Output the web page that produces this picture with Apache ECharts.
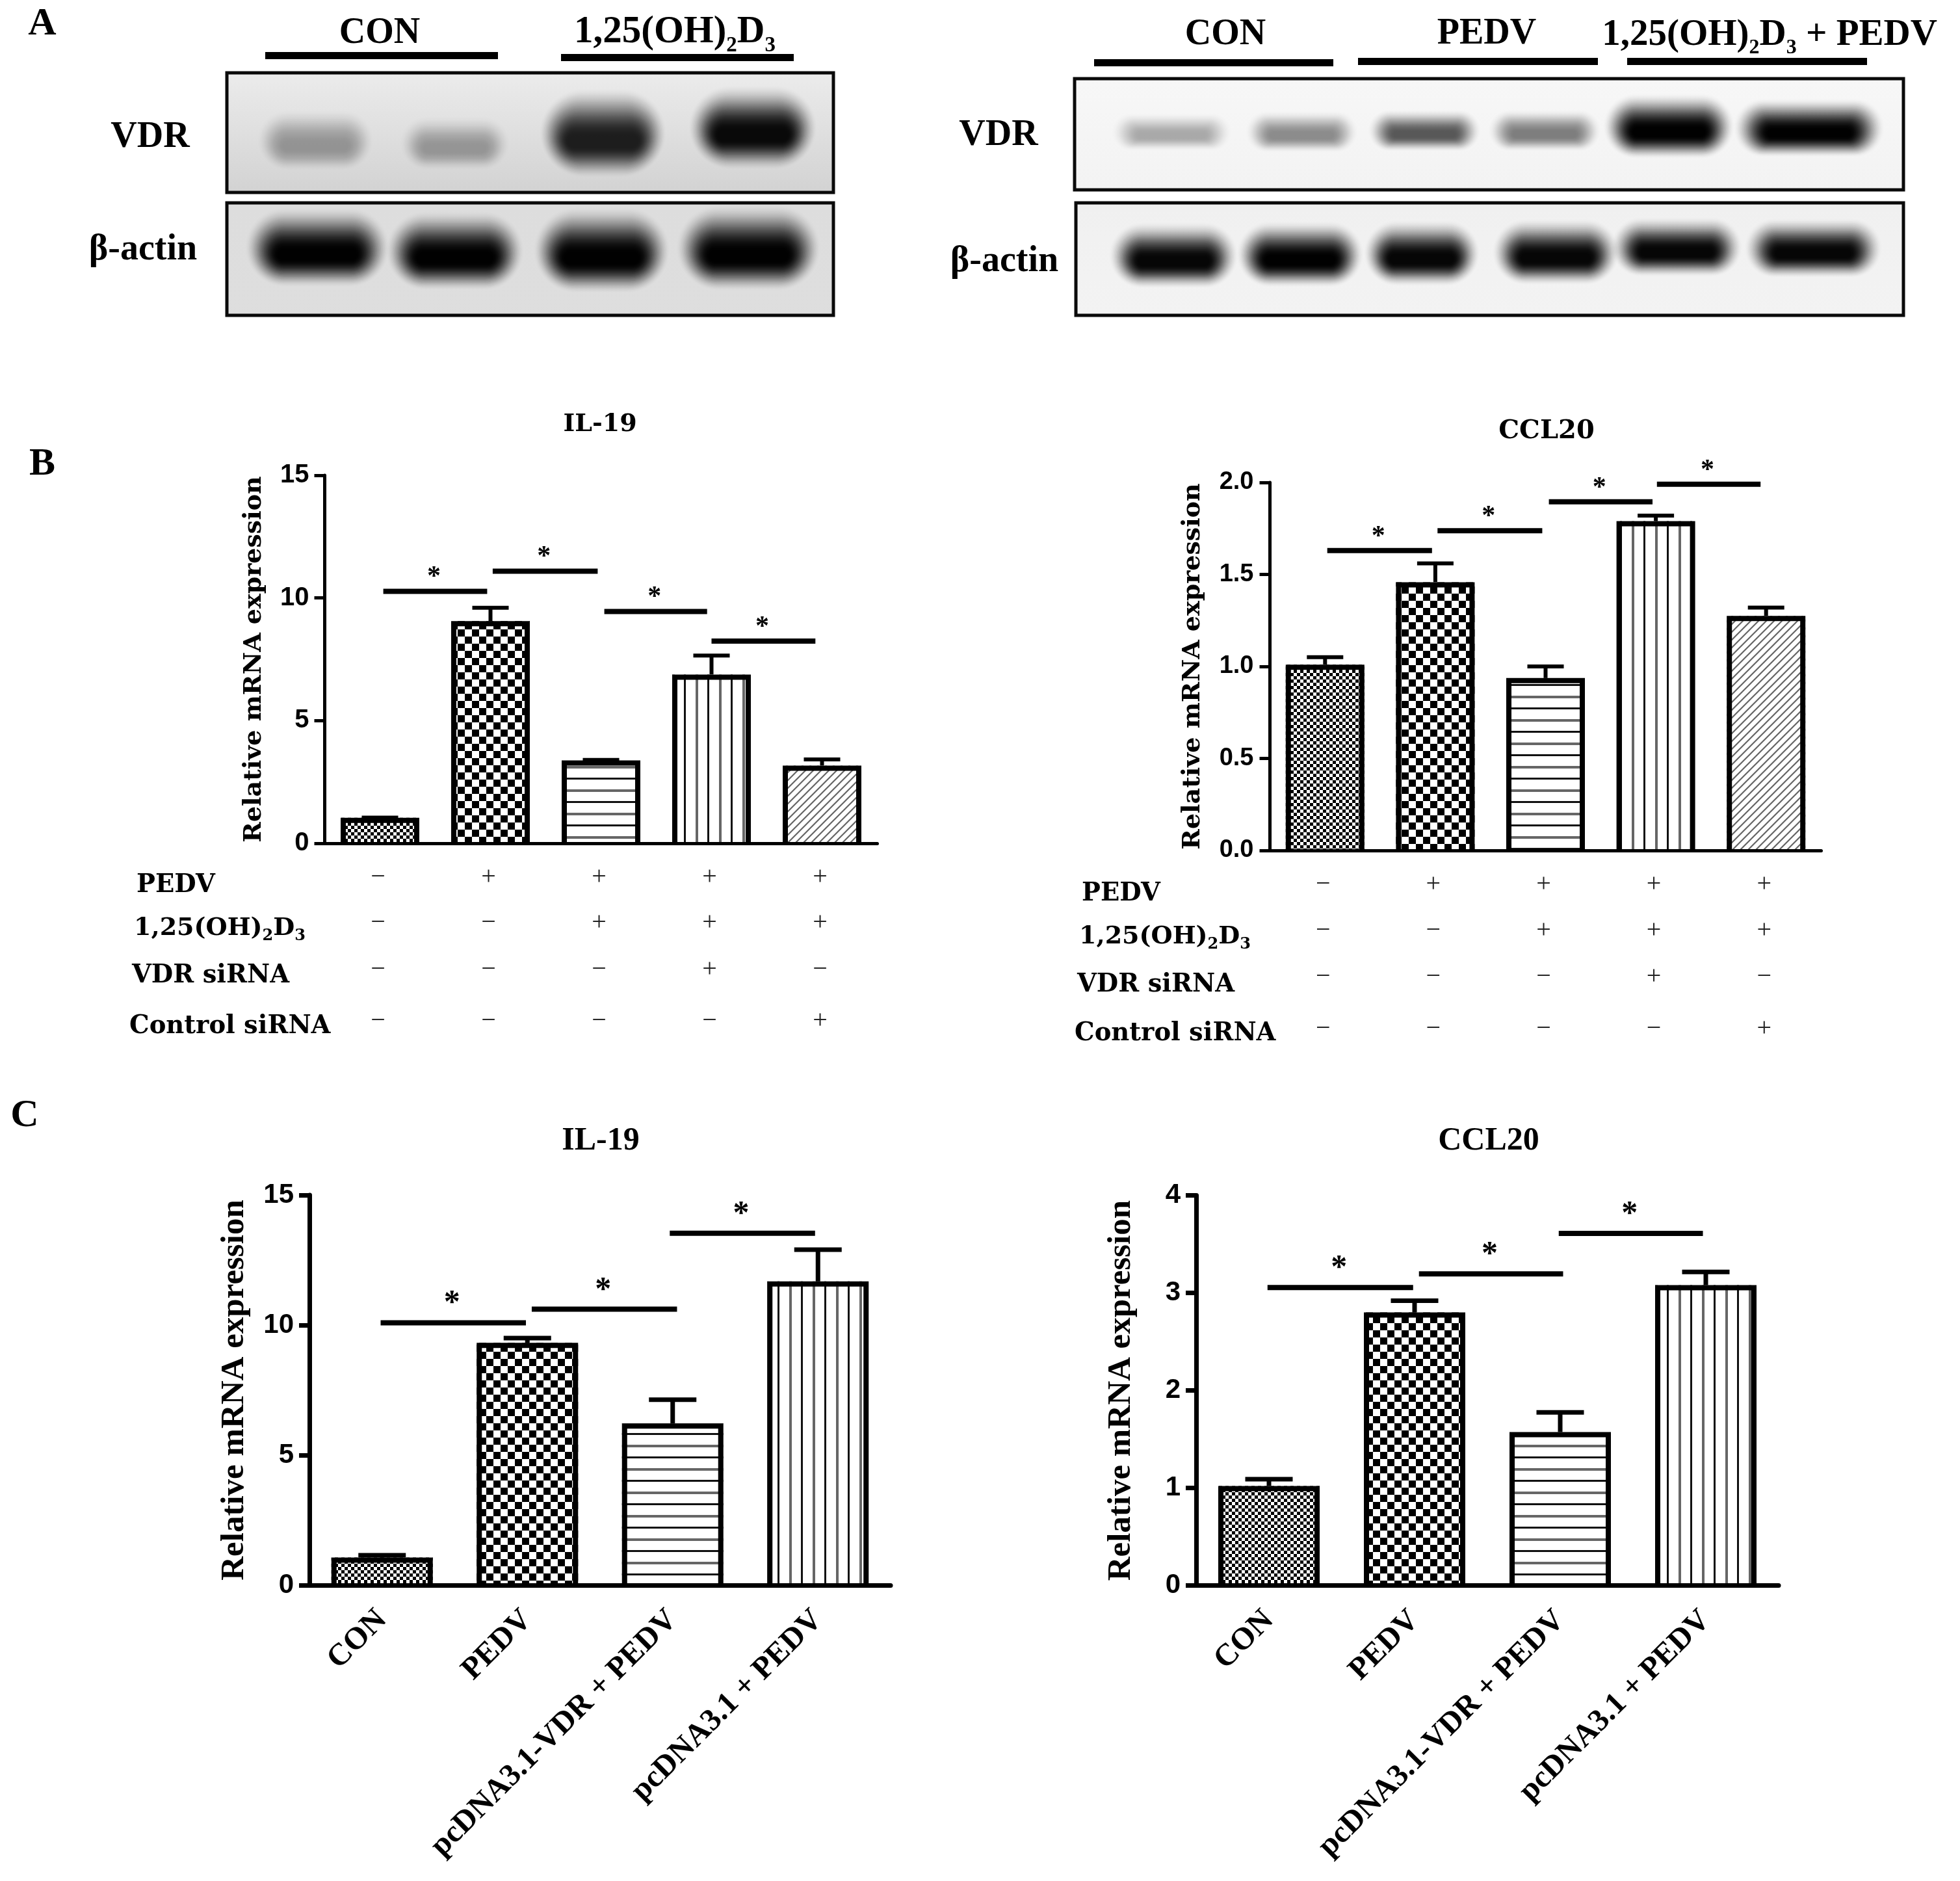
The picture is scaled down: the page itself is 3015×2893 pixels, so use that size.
<!DOCTYPE html>
<html><head><meta charset="utf-8">
<style>html,body{margin:0;padding:0;background:#fff}#c{width:3015px;height:2893px}</style>
<script src="https://cdn.jsdelivr.net/npm/echarts@6/dist/echarts.min.js"></script>
</head><body><div id="c"></div>
<script>
// ---------- data ----------
const bConditions = ['CON','PEDV','PEDV+D3','PEDV+D3+VDR siRNA','PEDV+D3+Control siRNA'];
const il19BValues = [1.04, 9.06, 3.38, 6.88, 3.17];
const il19BErrTop = [1.05, 9.6, 3.4, 7.65, 3.42];
const il19BSig = [[0.03,0.97,10.27],[1.02,1.97,11.09],[2.03,2.96,9.45],[3.0,3.94,8.24]];
const ccl20BValues = [1.01, 1.458, 0.937, 1.79, 1.275];
const ccl20BErrTop = [1.05, 1.56, 1.0, 1.82, 1.32];
const ccl20BSig = [[0.02,0.97,1.63],[1.02,1.97,1.738],[2.03,2.97,1.895],[3.01,3.95,1.99]];
const pedvRow    = ['−','+','+','+','+'];
const vitD3Row   = ['−','−','+','+','+'];
const vdrSiRow   = ['−','−','−','+','−'];
const ctrlSiRow  = ['−','−','−','−','+'];
const cCategories = ['CON','PEDV','pcDNA3.1-VDR + PEDV','pcDNA3.1 + PEDV'];
const il19CValues = [1.06, 9.32, 6.22, 11.68];
const il19CErrTop = [1.15, 9.5, 7.13, 12.9];
const il19CSig = [[-0.01,0.99,10.09],[1.03,2.03,10.61],[1.98,2.98,13.53]];
const ccl20CValues = [1.02, 2.8, 1.574, 3.08];
const ccl20CErrTop = [1.09, 2.92, 1.775, 3.215];
const ccl20CSig = [[-0.01,0.99,3.055],[1.03,2.02,3.195],[1.99,2.98,3.61]];
// western-blot bands: [x%, y%, half width %, half height %, darkness]
const blotLeftVdr = [[14.6,61,7.4,9,.28],[37.6,63,7,8,.25],[62,57,8,13,.84],[86.7,52,8,12,.94]];
const blotLeftActin = [[14.9,46,9,12,1],[37.6,49,8.6,12,1],[61.8,49,8.5,13,1],[86,47,9,13,1]];
const blotRightVdr = [[11.7,51,5.6,6,.26],[27.4,51,5.2,6.5,.38],[42.2,50,5.2,6.5,.6],[56.7,50,5.2,6.5,.44],[71.7,48,6,10,1],[88.6,49,6.9,9,1]];
const blotRightActin = [[11.8,52,5.9,10,.96],[27.1,51,5.8,10,1],[41.8,50,5.3,10,.96],[58,49,5.8,10,.96],[72.6,44,6,9,.96],[89.1,45,6.3,9,.96]];

// ---------- styling helpers ----------
const SERIF='"Liberation Serif"', DJ='"DejaVu Serif"', SANS='"Liberation Sans"';
function tile(w,h,draw){const c=document.createElement('canvas');c.width=w;c.height=h;const x=c.getContext('2d');x.fillStyle='#fff';x.fillRect(0,0,w,h);draw(x);return {image:c,repeat:'repeat'};}
function checker(s){return tile(2*s,2*s,x=>{x.fillStyle='#000';x.fillRect(0,0,s,s);x.fillRect(s,s,s,s);});}
const patDense=checker(5), patCheck=checker(11);
const patH=tile(8,36,x=>{x.fillStyle='#111';x.fillRect(0,8,8,3);x.fillStyle='#666';x.fillRect(0,26,8,4);});
const patV=tile(36,8,x=>{x.fillStyle='#111';x.fillRect(8,0,3,8);x.fillStyle='#666';x.fillRect(26,0,4,8);});
const patD=tile(12,12,x=>{x.strokeStyle='#666';x.lineWidth=2.2;x.beginPath();x.moveTo(-3,15);x.lineTo(15,-3);x.moveTo(-3,3);x.lineTo(3,-3);x.moveTo(9,15);x.lineTo(15,9);x.stroke();});
const barPatterns=[patDense,patCheck,patH,patV,patD];

const grid=[],xAxis=[],yAxis=[],series=[],graphic=[];
function text(x,y,t,font,opt){graphic.push({type:'text',x,y:y+4,silent:true,style:Object.assign({text:t,font,fill:'#000',align:'center',verticalAlign:'middle'},opt&&opt.style)});}
function d3Text(x,y,t,size,family,align,sub){
  const s=sub||Math.round(size*.62);
  graphic.push({type:'text',x,y,silent:true,style:{text:t,align:align,verticalAlign:'middle',fill:'#000',
    rich:{a:{fontFamily:family,fontWeight:'bold',fontSize:size,lineHeight:size*1.25,fill:'#000'},
          s:{fontFamily:family,fontWeight:'bold',fontSize:s,lineHeight:s,verticalAlign:'bottom',fill:'#000'}}}});
}
const D3='{a|1,25(OH)}{s|2}{a|D}{s|3}';

function barPanel(p){
  const g=grid.length;
  grid.push({left:p.left,top:p.top,width:p.width,height:p.height});
  const n=p.values.length;
  const cat=xAxis.length;
  xAxis.push({type:'category',gridIndex:g,data:p.categories,position:'bottom',z:8,
    axisLine:{lineStyle:{color:'#000',width:p.axisW}},
    axisTick:{alignWithLabel:true,length:17,lineStyle:{color:'#000',width:p.axisW}},
    axisLabel:p.rotate?{show:true,rotate:45,interval:0,margin:p.labelMargin,color:'#000',fontFamily:SERIF,fontWeight:'bold',fontSize:p.catSize}:{show:false}});
  const hid=xAxis.length;
  xAxis.push({type:'value',gridIndex:g,show:false,min:-.5,max:n-.5,splitLine:{show:false}});
  const y=yAxis.length;
  yAxis.push({type:'value',gridIndex:g,min:0,max:p.max,interval:p.interval,
    name:'Relative mRNA expression',nameLocation:'middle',nameGap:p.nameGap,nameRotate:90,
    nameTextStyle:{color:'#000',fontFamily:p.nameFont,fontWeight:'bold',fontSize:p.nameSize},
    axisLine:{show:true,onZero:false,lineStyle:{color:'#000',width:p.axisW}},
    axisTick:{show:true,length:16,lineStyle:{color:'#000',width:p.axisW}},
    splitLine:{show:false},
    axisLabel:{margin:p.tickMargin,color:'#000',fontFamily:SANS,fontWeight:'bold',fontSize:p.tickSize,
      formatter:v=>v.toFixed(p.decimals)}});
  series.push({type:'bar',xAxisIndex:cat,yAxisIndex:y,barWidth:p.barW,silent:true,
    data:p.values.map((v,i)=>({value:v,itemStyle:{color:(p.patterns||barPatterns)[i]}}))});
  // bar outline (open at the base, as in the figure), error stem and cap
  series.push({type:'custom',xAxisIndex:hid,yAxisIndex:y,silent:true,z:5,clip:false,
    data:p.values.map((v,i)=>[i,v,p.errTop[i]]),
    renderItem:(ctx,api)=>{
      const a=api.coord([api.value(0),api.value(1)]),b=api.coord([api.value(0),api.value(2)]),o=api.coord([api.value(0),0]);
      const st={stroke:'#000',lineWidth:p.errW,fill:null};
      const hs=p.barStroke/2,l=a[0]-p.barW/2+hs,r=a[0]+p.barW/2-hs,t=a[1]+hs;
      return {type:'group',children:[
        {type:'polyline',shape:{points:[[l,o[1]],[l,t],[r,t],[r,o[1]]]},style:{stroke:'#000',lineWidth:p.barStroke,fill:null,lineJoin:'miter'}},
        {type:'line',shape:{x1:a[0],y1:a[1],x2:b[0],y2:b[1]},style:st},
        {type:'line',shape:{x1:b[0]-p.capW/2,y1:b[1],x2:b[0]+p.capW/2,y2:b[1]},style:st}]};
    }});
  series.push({type:'custom',xAxisIndex:hid,yAxisIndex:y,silent:true,z:6,clip:false,
    data:p.sig,
    renderItem:(ctx,api)=>{
      const a=api.coord([api.value(0),api.value(2)]),b=api.coord([api.value(1),api.value(2)]);
      return {type:'group',children:[
        {type:'line',shape:{x1:a[0],y1:a[1],x2:b[0],y2:b[1]},style:{stroke:'#000',lineWidth:p.sigW}},
        {type:'text',x:(a[0]+b[0])/2-2,y:a[1]-p.starGap,style:{text:'*',font:'bold '+p.starSize+'px '+SERIF,fill:'#000',align:'center',verticalAlign:'middle'}}]};
    }});
}
function signGrid(left,width,top,height,rows){
  const g=grid.length;
  grid.push({left,top,width,height});
  const xi=xAxis.length,yi=yAxis.length;
  xAxis.push({type:'value',gridIndex:g,show:false,min:-.5,max:4.5,splitLine:{show:false}});
  yAxis.push({type:'value',gridIndex:g,show:false,min:0,max:3,inverse:true,splitLine:{show:false}});
  const rowPos=[0,.96,1.93,3],data=[];
  rows.forEach((r,j)=>r.forEach((s,i)=>data.push([i,rowPos[j],s])));
  series.push({type:'custom',xAxisIndex:xi,yAxisIndex:yi,silent:true,clip:false,data,
    encode:{x:0,y:1},dimensions:['c','r',{name:'s',type:'ordinal'}],
    renderItem:(ctx,api)=>{
      const c=api.coord([api.value(0),api.value(1)]);
      return {type:'text',x:c[0]-3,y:c[1]+3,style:{text:data[ctx.dataIndex][2],font:'40px '+SERIF,fill:'#222',align:'center',verticalAlign:'middle'}};
    }});
}
function blot(left,top,width,height,bands,c0,c1){
  const g=grid.length;
  grid.push({show:true,left,top,width,height,borderColor:'#0a0a0a',borderWidth:5,
    backgroundColor:{type:'linear',x:0,y:0,x2:0,y2:1,colorStops:[{offset:0,color:c0},{offset:1,color:c1}]}});
  const xi=xAxis.length,yi=yAxis.length;
  xAxis.push({type:'value',gridIndex:g,show:false,min:0,max:100,splitLine:{show:false}});
  yAxis.push({type:'value',gridIndex:g,show:false,min:0,max:100,inverse:true,splitLine:{show:false}});
  series.push({type:'custom',xAxisIndex:xi,yAxisIndex:yi,silent:true,clip:true,data:bands,
    encode:{x:0,y:1},
    renderItem:(ctx,api)=>{
      const c=api.coord([api.value(0),api.value(1)]),sz=api.size([api.value(2),api.value(3)]);
      const N=36,dark=Math.min(api.value(4),.985),kids=[];
      let prev=0;
      for(let k=1;k<=N;k++){
        const u=k/N,t=1-u;
        const D=dark*u*u*(3-2*u);
        const al=1-(1-D)/(1-prev);prev=D;
        const w=sz[0]*(.72+.62*t),h=sz[1]*(.4+2.6*t),cy=c[1]-sz[1]*.55*t;
        kids.push({type:'rect',shape:{x:c[0]-w,y:cy-h,width:2*w,height:2*h,r:Math.min(w,h)},style:{fill:'#000',opacity:al}});
      }
      return {type:'group',children:kids};
    }});
}

// ---------- panel A ----------
blot(349,112,933,184,blotLeftVdr,'#ececec','#d2d2d2');
blot(349,312,933,173,blotLeftActin,'#dddddd','#dedede');
blot(1653,121,1275,171,blotRightVdr,'#f7f7f7','#f3f3f3');
blot(1655,312,1273,173,blotRightActin,'#f0f0f0','#f3f3f3');
[[408,80,358,11],[863,83,358,11],[1683,91,368,11],[2089,89,369,11],[2503,89,369,11]].forEach(r=>
  graphic.push({type:'rect',silent:true,shape:{x:r[0],y:r[1],width:r[2],height:r[3]},style:{fill:'#000'}}));
const fA='bold 56px '+SERIF;
text(65,33,'A','bold 60px '+SERIF);
text(65,710,'B','bold 60px '+SERIF);
text(38,1712,'C','bold 60px '+SERIF);
text(584,48,'CON',fA);
d3Text(1038,50,D3,59,SERIF,'center',33);
text(1885,50,'CON',fA);
text(2287,49,'PEDV',fA);
d3Text(2722,54,D3+'{a| + PEDV}',57,SERIF,'center',32);
text(231,208,'VDR',fA);
text(220,381,'β-actin',fA);
text(1536,205,'VDR',fA);
text(1545,399,'β-actin',fA);

// ---------- panel B ----------
barPanel({left:499.5,top:731,width:850,height:566,values:il19BValues,errTop:il19BErrTop,sig:il19BSig,categories:bConditions,
  max:15,interval:5,decimals:0,axisW:5,barW:121,barStroke:8,errW:6,capW:56,sigW:8,starGap:21,starSize:42,
  nameFont:DJ,nameSize:38,nameGap:89,tickSize:40,tickMargin:24});
barPanel({left:1953.5,top:742,width:848,height:566,values:ccl20BValues,errTop:ccl20BErrTop,sig:ccl20BSig,categories:bConditions,
  max:2,interval:.5,decimals:1,axisW:5,barW:121,barStroke:8,errW:6,capW:56,sigW:8,starGap:21,starSize:42,
  nameFont:DJ,nameSize:38,nameGap:99,tickSize:38,tickMargin:25});
signGrid(499.5,850,1346,221,[pedvRow,vitD3Row,vdrSiRow,ctrlSiRow]);
signGrid(1953.5,848,1357,222,[pedvRow,vitD3Row,vdrSiRow,ctrlSiRow]);
const fB='bold 38.5px '+DJ;
function rowLabels(xs,ys){
  const o={align:'left'};
  text(xs[0],ys[0],'PEDV',fB,{style:o});
  d3Text(xs[1],ys[1],D3,38,DJ,'left',24);
  text(xs[2],ys[2],'VDR siRNA',fB,{style:o});
  text(xs[3],ys[3],'Control siRNA',fB,{style:o});
}
rowLabels([210,206,203,199],[1358,1428,1497,1575]);
rowLabels([1664,1660,1657,1653],[1371,1441,1511,1586]);
text(923,649,'IL-19','bold 38px '+DJ);
text(2379,660,'CCL20','bold 40px '+DJ);

// ---------- panel C ----------
const pC=[patDense,patCheck,patH,patV];
barPanel({left:476,top:1838,width:894,height:600,values:il19CValues,errTop:il19CErrTop,sig:il19CSig,categories:cCategories,rotate:true,
  max:15,interval:5,decimals:0,axisW:7,barW:156,barStroke:8,errW:7,capW:73,sigW:8,starGap:29,starSize:50,patterns:pC,
  nameFont:SERIF,nameSize:51,nameGap:90,tickSize:42,tickMargin:24,catSize:48,labelMargin:46});
barPanel({left:1840,top:1838.6,width:896,height:600,values:ccl20CValues,errTop:ccl20CErrTop,sig:ccl20CSig,categories:cCategories,rotate:true,
  max:4,interval:1,decimals:0,axisW:7,barW:156,barStroke:8,errW:7,capW:73,sigW:8,starGap:29,starSize:50,patterns:pC,
  nameFont:SERIF,nameSize:51,nameGap:90,tickSize:42,tickMargin:24,catSize:48,labelMargin:46});
text(924,1751,'IL-19','bold 50px '+SERIF);
text(2290,1751,'CCL20','bold 50px '+SERIF);

const chart=echarts.init(document.getElementById('c'),null,{renderer:'canvas'});
chart.setOption({animation:false,backgroundColor:'#fff',grid,xAxis,yAxis,series,graphic:{elements:graphic}});
</script></body></html>
